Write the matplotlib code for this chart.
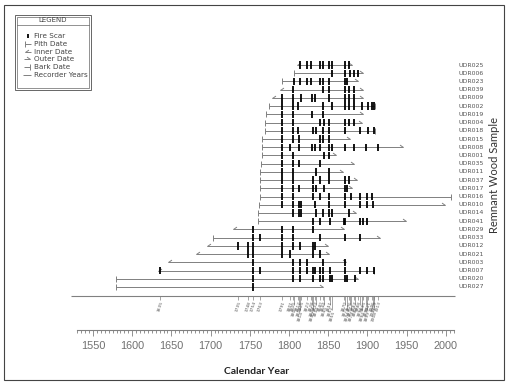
import matplotlib
matplotlib.use("Agg")
import matplotlib.pyplot as plt
from matplotlib.path import Path
from matplotlib.patches import Rectangle

# samples, top to bottom
samples = ["UDR025", "UDR006", "UDR023", "UDR039", "UDR009", "UDR002", "UDR019",
           "UDR004", "UDR018", "UDR015", "UDR008", "UDR001", "UDR035", "UDR011",
           "UDR037", "UDR017", "UDR016", "UDR010", "UDR014", "UDR041", "UDR029",
           "UDR033", "UDR012", "UDR021", "UDR003", "UDR007", "UDR020", "UDR027"]
first_year = [1810, 1806, 1791, 1789, 1778, 1775, 1771, 1770, 1770, 1766, 1766, 1765,
              1764, 1763, 1763, 1763, 1763, 1762, 1761, 1761, 1729, 1703, 1696, 1682,
              1646, 1633, 1579, 1579]
first_type = ["inner", "pith", "pith", "inner", "inner", "pith", "pith", "pith", "pith",
              "pith", "pith", "pith", "pith", "pith", "pith", "pith", "pith", "pith",
              "pith", "pith", "inner", "pith", "inner", "inner", "inner", "inner",
              "pith", "pith"]
last_year = [1880, 1895, 1888, 1895, 1895, 1910, 1895, 1893, 1910, 1878, 1946, 1860,
             1883, 1869, 1887, 1880, 2007, 1999, 1885, 1949, 1870, 1916, 1850, 1851,
             1873, 1909, 1888, 1843]
last_type = ["outer", "outer", "outer", "outer", "outer", "bark", "outer", "outer", "bark",
             "outer", "outer", "outer", "outer", "outer", "outer", "outer", "bark", "outer",
             "outer", "outer", "outer", "outer", "outer", "outer", "outer", "bark",
             "outer", "outer"]
scars = [
    [1814, 1823, 1828, 1840, 1844, 1851, 1855, 1871, 1876],
    [1855, 1871, 1878, 1883, 1888],
    [1806, 1814, 1823, 1828, 1840, 1844, 1851, 1871, 1874],
    [1805, 1844, 1851, 1871, 1876, 1883],
    [1791, 1805, 1815, 1829, 1833, 1851, 1871, 1876, 1883],
    [1791, 1805, 1812, 1844, 1855, 1871, 1876, 1883, 1893, 1901, 1906, 1909],
    [1791, 1805, 1829, 1844],
    [1791, 1805, 1840, 1845, 1851, 1871, 1876, 1883],
    [1791, 1805, 1812, 1830, 1834, 1844, 1851, 1871, 1891, 1901, 1909],
    [1791, 1805, 1813, 1840, 1844, 1851],
    [1791, 1801, 1813, 1829, 1833, 1840, 1851, 1855, 1871, 1883, 1898, 1913],
    [1791, 1805, 1845, 1851],
    [1791, 1805, 1813, 1840],
    [1791, 1805, 1834, 1851],
    [1791, 1805, 1830, 1840, 1851, 1871, 1876],
    [1791, 1805, 1813, 1830, 1834, 1845, 1871, 1874],
    [1791, 1805, 1830, 1840, 1851, 1871, 1879, 1891, 1899, 1906],
    [1791, 1805, 1813, 1815, 1833, 1851, 1871, 1891, 1899, 1907],
    [1805, 1813, 1815, 1834, 1844, 1851, 1855, 1876],
    [1830, 1840, 1852, 1870, 1871, 1891, 1895, 1899],
    [1754, 1791, 1805, 1830],
    [1754, 1763, 1791, 1805, 1840, 1871, 1891],
    [1735, 1748, 1754, 1791, 1805, 1814, 1830, 1833],
    [1748, 1754, 1791, 1801, 1830, 1840],
    [1754, 1805, 1814, 1823, 1844, 1871],
    [1635, 1754, 1763, 1805, 1814, 1823, 1830, 1833, 1840, 1844, 1852, 1871, 1891, 1899, 1908],
    [1754, 1805, 1814, 1830, 1840, 1844, 1852, 1855, 1871, 1874, 1884],
    [1754],
]
major_years = list(range(1550, 2001, 50))
minor_years = list(range(1530, 2011, 5))
legend_items = ["Fire Scar", "Pith Date", "Inner Date", "Outer Date", "Bark Date", "Recorder Years"]

W, H = 510, 384
GRAY = "#808080"
TXT = "#555555"
px_per_year = 0.784
x_lo = 1550 - 93 / px_per_year
x_hi = 1550 + (W - 93) / px_per_year

fig = plt.figure(figsize=(W / 100, H / 100), dpi=100)


def px_axes(x0, y0, x1, y1):
    a = fig.add_axes([x0 / W, 1 - y1 / H, (x1 - x0) / W, (y1 - y0) / H])
    a.set_axis_off()
    return a


inner_mk = Path([(0, 0), (1, 0.7)], [Path.MOVETO, Path.LINETO])
outer_mk = Path([(0, 0), (-1, 0.7)], [Path.MOVETO, Path.LINETO])


def end_marker(a, x, y, kind):
    mk = {"pith": "|", "bark": "|", "inner": inner_mk, "outer": outer_mk}[kind]
    a.plot([x], [y], marker=mk, ms=4 if kind in ("pith", "bark") else 5,
           mec=GRAY, mfc="none", mew=0.7, ls="none")


# sample rows
row_h = 8.22
ax = px_axes(0, 55, W, 292)
ax.set_xlim(x_lo, x_hi)
ax.set_ylim(27 + (292 - 287) / row_h, -(65 - 55) / row_h)
for i, name in enumerate(samples):
    ax.hlines(i, first_year[i], last_year[i], color=GRAY, lw=0.7)
    end_marker(ax, first_year[i], i, first_type[i])
    end_marker(ax, last_year[i], i, last_type[i])
    ax.vlines(scars[i], i - 0.45, i + 0.45, color="black", lw=1.3)
    ax.text(459 / W, i, name, transform=ax.get_yaxis_transform(),
            ha="left", va="center", fontsize=4.5, color=TXT)

# composite axis
comp_years = sorted(set(y for s in scars for y in s))
axc = px_axes(0, 296, W, 326)
axc.set_xlim(x_lo, x_hi)
axc.set_ylim(30, 0)
axc.hlines(0, 1522, 2012, color=GRAY, lw=0.8, clip_on=False)
level, prev = 0, -100
for yr in comp_years:
    level = (level + 1) % 3 if yr - prev < 4 else 0
    prev = yr
    drop = 4 + level * 5
    axc.vlines(yr, 0, drop, color=GRAY, lw=0.5)
    axc.text(yr, drop + 0.5, str(yr), rotation=72, ha="right", va="top",
             fontsize=3.2, color=TXT, rotation_mode="anchor")

# calendar year axis
axy = fig.add_axes([0, 1 - 338 / H, 1, 8 / H])
axy.set_xlim(x_lo, x_hi)
axy.patch.set_visible(False)
for s in ("left", "right", "bottom"):
    axy.spines[s].set_visible(False)
axy.spines["top"].set_color(GRAY)
axy.spines["top"].set_linewidth(0.8)
axy.spines["top"].set_bounds(1530, 2010)
axy.set_yticks([])
axy.set_xticks(major_years)
axy.set_xticks(minor_years, minor=True)
axy.tick_params(which="both", top=True, bottom=False, labeltop=False, labelbottom=True,
                direction="in", color=GRAY, width=0.6)
axy.tick_params(which="major", length=4.5, pad=2.5, labelsize=7.8, labelcolor="#707070")
axy.tick_params(which="minor", length=2.5)
for lab in axy.get_xticklabels():
    lab.set_fontfamily("Liberation Sans")
fig.text(257 / W, 1 - 371 / H, "Calendar Year", ha="center", va="center",
         fontsize=7.5, fontweight="bold", family="Lato", color="#222222")
fig.text(495 / W, 1 - 175 / H, "Remnant Wood Sample", rotation=90, ha="center",
         va="center", fontsize=8, family="Lato", color="#333333")

# legend box
axl = px_axes(14, 14, 92, 91)
axl.set_xlim(0, 78)
axl.set_ylim(77, 0)
axl.add_patch(Rectangle((1, 1), 76, 75, fill=False, ec="#666666", lw=0.7))
axl.add_patch(Rectangle((3, 3), 72, 71, fill=False, ec="#666666", lw=0.5))
axl.plot([3, 75], [11, 11], color="#666666", lw=0.5)
axl.text(39, 6.5, "LEGEND", ha="center", va="center", fontsize=5, color="#444444")
for k, lab in enumerate(legend_items):
    yy = 22 + k * 7.8
    if k == 0:
        axl.vlines(14, yy - 2.2, yy + 2.2, color="black", lw=1.3)
    elif k == 5:
        axl.hlines(yy, 9, 17, color=GRAY, lw=0.7)
    else:
        kind = ["pith", "inner", "outer", "bark"][k - 1]
        if kind in ("pith", "inner"):
            axl.hlines(yy, 11, 17, color=GRAY, lw=0.7)
            end_marker(axl, 11, yy, kind)
        else:
            axl.hlines(yy, 10, 16, color=GRAY, lw=0.7)
            end_marker(axl, 16, yy, kind)
    axl.text(20, yy, lab, ha="left", va="center", fontsize=5.2, color="#444444")

# outer frame
fig.patches.append(Rectangle((4 / W, 1 - 380 / H), 500 / W, 375 / H, fill=False,
                             ec="#444444", lw=0.8, transform=fig.transFigure))

fig.savefig("out.png", dpi=100)
